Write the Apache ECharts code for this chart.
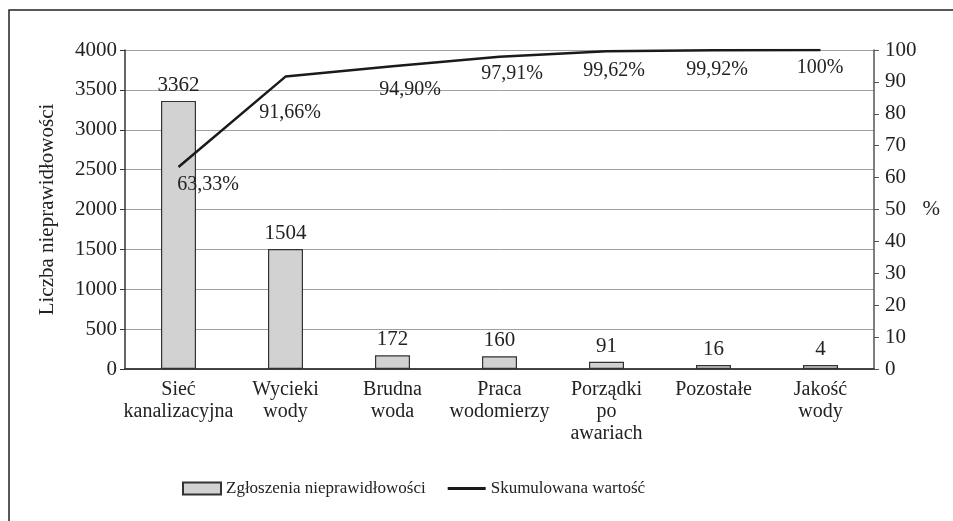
<!DOCTYPE html>
<html>
<head>
<meta charset="utf-8">
<script src="https://cdn.jsdelivr.net/npm/echarts@6/dist/echarts.min.js"></script>
<style>html,body{margin:0;padding:0;background:#fff}#c{width:953px;height:521px}</style>
</head>
<body>
<div id="c"></div>
<script>
const categories = ["Sieć\nkanalizacyjna", "Wycieki\nwody", "Brudna\nwoda", "Praca\nwodomierzy", "Porządki\npo\nawariach", "Pozostałe", "Jakość\nwody"];
const counts = [3362, 1504, 172, 160, 91, 16, 4];
const cumulative = [63.33, 91.66, 94.90, 97.91, 99.62, 99.92, 100];
const cumulativeLabels = ["63,33%", "91,66%", "94,90%", "97,91%", "99,62%", "99,92%", "100%"];
const leftTicks = [0, 4000, 500];
const rightTicks = [0, 100, 10];

// label placement tweaks in pixels (styling, not data)
const lineLabelOffsets = [[30, 18], [5, 37], [18, 24], [13, 18], [8, 20], [4, 20], [0, 18]];

const FONT = "Liberation Serif";
const TXT = "#222";
const chart = echarts.init(document.getElementById('c'), null, {renderer: 'canvas'});
chart.setOption({
  animation: false,
  backgroundColor: '#fff',
  textStyle: {fontFamily: FONT, color: TXT},
  graphic: [{
    type: 'rect', shape: {x: 9, y: 10, width: 1000, height: 600},
    style: {fill: 'none', stroke: '#222', lineWidth: 1.5}, silent: true, z: -1
  }],
  grid: {left: 125, right: 79, top: 50, bottom: 152},
  legend: {
    top: 475, left: 177,
    itemWidth: 38, itemHeight: 12, itemGap: 22,
    textStyle: {fontFamily: FONT, fontSize: 17, color: TXT},
    data: [
      {name: 'Zgłoszenia nieprawidłowości', icon: 'rect'},
      {name: 'Skumulowana wartość', icon: 'path://M0,0L38,0L38,3L0,3Z', itemStyle: {color: '#1a1a1a', opacity: 1, borderWidth: 0}}
    ]
  },
  xAxis: [{
    type: 'category', data: categories, position: 'bottom',
    axisLine: {lineStyle: {color: '#111', width: 1.5}},
    axisTick: {show: false},
    axisLabel: {fontFamily: FONT, fontSize: 20, color: TXT, lineHeight: 22, margin: 10, interval: 0}
  }, {
    type: 'category', data: categories, position: 'top',
    axisLine: {lineStyle: {color: '#444', width: 1.5}},
    axisTick: {show: false}, axisLabel: {show: false}
  }],
  yAxis: [{
    type: 'value', min: leftTicks[0], max: leftTicks[1], interval: leftTicks[2],
    name: 'Liczba nieprawidłowości', nameLocation: 'middle', nameGap: 67, nameRotate: 90,
    nameTextStyle: {fontFamily: FONT, fontSize: 21, color: TXT},
    axisLine: {show: true, lineStyle: {color: '#333', width: 1.5}},
    axisTick: {show: true, length: 5, lineStyle: {color: '#333'}},
    axisLabel: {fontFamily: FONT, fontSize: 21, color: TXT, margin: 8, formatter: v => String(v)},
    splitLine: {lineStyle: {color: '#a0a0a0', width: 1}}
  }, {
    type: 'value', min: rightTicks[0], max: rightTicks[1], interval: rightTicks[2], position: 'right',
    name: '%', nameLocation: 'middle', nameGap: 46, nameRotate: 0,
    nameTextStyle: {fontFamily: FONT, fontSize: 21, color: TXT},
    axisLine: {show: true, lineStyle: {color: '#555', width: 1.5}},
    axisTick: {show: true, length: 5, lineStyle: {color: '#555'}},
    axisLabel: {fontFamily: FONT, fontSize: 21, color: TXT, margin: 11},
    splitLine: {show: false}
  }],
  series: [{
    name: 'Zgłoszenia nieprawidłowości', type: 'bar', data: counts, barWidth: 35, barMinHeight: 4,
    xAxisIndex: 0, yAxisIndex: 0,
    itemStyle: {color: '#d2d2d2', borderColor: '#333', borderWidth: 1.2},
    label: {show: true, position: 'top', distance: 5, fontFamily: FONT, fontSize: 21, color: TXT}
  }, {
    name: 'Skumulowana wartość', type: 'line', yAxisIndex: 1, xAxisIndex: 0,
    data: cumulative.map((v, i) => ({
      value: v,
      label: {position: lineLabelOffsets[i], align: 'center', verticalAlign: 'middle'}
    })),
    showSymbol: true, symbol: 'circle', symbolSize: 1,
    lineStyle: {color: '#1a1a1a', width: 2.5},
    itemStyle: {color: 'rgba(0,0,0,0)', borderWidth: 0},
    label: {
      show: true,
      fontFamily: FONT, fontSize: 20, color: TXT, opacity: 1,
      formatter: p => cumulativeLabels[p.dataIndex]
    },
    labelLayout: {hideOverlap: false},
    z: 5
  }]
});
</script>
</body>
</html>
